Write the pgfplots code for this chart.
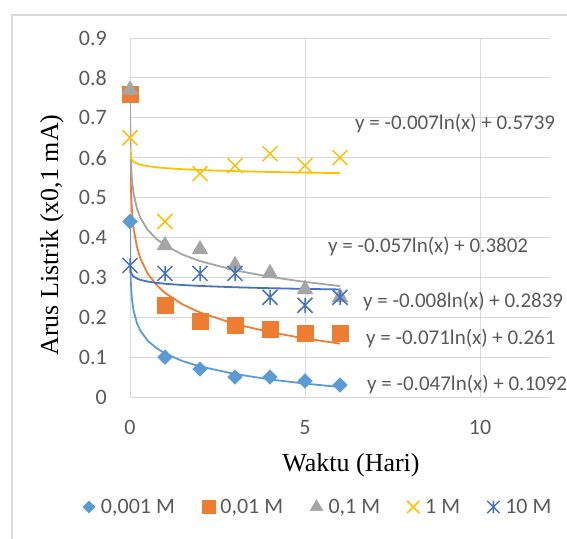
\documentclass[border=0pt]{standalone}
\usepackage{fontspec}
\setmainfont{Liberation Serif}
\newfontfamily\calibri{Carlito}
\usepackage{pgfplots}
\usepackage{pgfplotstable}
\pgfplotsset{compat=1.18}
\definecolor{cA}{HTML}{5B9BD5}
\definecolor{cB}{HTML}{ED7D31}
\definecolor{cC}{HTML}{A5A5A5}
\definecolor{cD}{HTML}{FFC000}
\definecolor{cE}{HTML}{4472C4}
\definecolor{gridc}{HTML}{D9D9D9}
\definecolor{tc}{HTML}{595959}

\pgfdeclareplotmark{rdiamond}{%
 \pgfpathmoveto{\pgfqpoint{0pt}{\pgfplotmarksize}}%
 \pgfpathlineto{\pgfqpoint{\pgfplotmarksize}{0pt}}%
 \pgfpathlineto{\pgfqpoint{0pt}{-\pgfplotmarksize}}%
 \pgfpathlineto{\pgfqpoint{-\pgfplotmarksize}{0pt}}%
 \pgfpathclose\pgfusepathqfillstroke}
\pgfdeclareplotmark{xmark}{%
 \pgfpathmoveto{\pgfqpoint{-\pgfplotmarksize}{-\pgfplotmarksize}}%
 \pgfpathlineto{\pgfqpoint{\pgfplotmarksize}{\pgfplotmarksize}}%
 \pgfpathmoveto{\pgfqpoint{-\pgfplotmarksize}{\pgfplotmarksize}}%
 \pgfpathlineto{\pgfqpoint{\pgfplotmarksize}{-\pgfplotmarksize}}%
 \pgfusepathqstroke}
\pgfdeclareplotmark{xstar}{%
 \pgfpathmoveto{\pgfqpoint{-\pgfplotmarksize}{-\pgfplotmarksize}}%
 \pgfpathlineto{\pgfqpoint{\pgfplotmarksize}{\pgfplotmarksize}}%
 \pgfpathmoveto{\pgfqpoint{-\pgfplotmarksize}{\pgfplotmarksize}}%
 \pgfpathlineto{\pgfqpoint{\pgfplotmarksize}{-\pgfplotmarksize}}%
 \pgfpathmoveto{\pgfqpoint{0pt}{-\pgfplotmarksize}}%
 \pgfpathlineto{\pgfqpoint{0pt}{\pgfplotmarksize}}%
 \pgfusepathqstroke}

\pgfplotstableread{
x a b c d e
0 0.44 0.76 0.77 0.65 0.33
1 0.10 0.23 0.38 0.44 0.31
2 0.07 0.19 0.37 0.56 0.31
3 0.05 0.18 0.33 0.58 0.31
4 0.05 0.17 0.31 0.61 0.25
5 0.04 0.16 0.27 0.58 0.23
6 0.03 0.16 0.25 0.60 0.25
}\data

% trendline points (from the equations shown in the chart)
\pgfplotstableread{
x a b c d e
0.001 0.4339 0.7515 0.7739 0.6223 0.3392
0.002 0.4013 0.7022 0.7344 0.6174 0.3336
0.005 0.3582 0.6372 0.6822 0.6110 0.3263
0.01 0.3256 0.5880 0.6427 0.6061 0.3207
0.02 0.2931 0.5388 0.6032 0.6013 0.3152
0.05 0.2500 0.4737 0.5510 0.5949 0.3079
0.1 0.2174 0.4245 0.5115 0.5900 0.3023
0.2 0.1848 0.3753 0.4719 0.5852 0.2968
0.3 0.1658 0.3465 0.4488 0.5823 0.2935
0.5 0.1418 0.3102 0.4197 0.5788 0.2895
0.75 0.1227 0.2814 0.3966 0.5759 0.2862
1 0.1092 0.2610 0.3802 0.5739 0.2839
1.5 0.0901 0.2322 0.3571 0.5711 0.2807
2 0.0766 0.2118 0.3407 0.5690 0.2784
3 0.0576 0.1830 0.3176 0.5662 0.2751
4 0.0440 0.1626 0.3012 0.5642 0.2728
5 0.0336 0.1467 0.2885 0.5626 0.2710
6 0.0250 0.1338 0.2781 0.5614 0.2696
}\trend

\newcommand{\tfont}{\calibri\fontsize{21}{25}\selectfont}
\newcommand{\kfont}{\calibri\fontsize{22}{26}\selectfont}

\begin{document}
\begin{tikzpicture}
\clip[use as bounding box] (0pt,0pt) rectangle (567pt,538pt);
\draw[gridc, line width=1.2pt] (12pt,-5pt) -- (12pt,523pt) -- (590pt,523pt);
\begin{axis}[
  at={(130pt,141pt)}, anchor=south west,
  scale only axis, width=420pt, height=359pt,
  xmin=0, xmax=12, ymin=0, ymax=0.9,
  xtick={0,5,10},
  ytick={0,0.1,0.2,0.3,0.4,0.5,0.6,0.7,0.8,0.9},
  grid=major,
  major grid style={draw=gridc, line width=1pt},
  axis line style={draw=none},
  tick style={draw=none},
  major tick length=0pt,
  /pgf/number format/.cd, fixed, precision=1, assume math mode=true,
  /pgfplots/.cd,
  ticklabel style={font=\kfont, text=tc},
  yticklabel style={inner sep=0pt, anchor=east, xshift=-23pt},
  xticklabel style={inner sep=0pt, anchor=north, yshift=-23pt},
  legend columns=5,
  legend style={draw=none, fill=none, font=\kfont, text=tc, inner sep=0pt, outer sep=0pt,
    at={(axis description cs:-0.112,-0.3064)}, anchor=west,
    /tikz/every even column/.append style={column sep=25pt}},
  legend image code/.code={\path[draw=none,fill=none] (0pt,0pt) -- (16pt,0pt);\draw[mark repeat=2,mark phase=2,#1,every mark/.append style={scale=0.82}] plot coordinates {(0pt,0pt) (6pt,0pt) (12pt,0pt)};},
]
\addplot[only marks, mark=rdiamond, mark size=7.3pt, draw=cA, fill=cA, line width=0.5pt] table[x=x,y=a]{\data};
\addlegendentry{0,001 M}
\addplot[only marks, mark=square*, mark size=8pt, draw=cB, fill=cB, line width=0.5pt] table[x=x,y=b]{\data};
\addlegendentry{0,01 M}
\addplot[only marks, mark=triangle*, mark size=9pt, draw=cC, fill=cC, line width=0.5pt] table[x=x,y=c]{\data};
\addlegendentry{0,1 M}
\addplot[only marks, mark=xmark, mark size=7.5pt, draw=cD, line width=1.5pt] table[x=x,y=d]{\data};
\addlegendentry{1 M}
\addplot[only marks, mark=xstar, mark size=7.5pt, draw=cE, line width=1.5pt] table[x=x,y=e]{\data};
\addlegendentry{10 M}

\addplot[forget plot, no marks, draw=cA, line width=1.8pt] table[x=x,y=a]{\trend};
\addplot[forget plot, no marks, draw=cB, line width=1.8pt] table[x=x,y=b]{\trend};
\addplot[forget plot, no marks, draw=cC, line width=1.8pt] table[x=x,y=c]{\trend};
\addplot[forget plot, no marks, draw=cD, line width=1.8pt] table[x=x,y=d]{\trend};
\addplot[forget plot, no marks, draw=cE, line width=1.8pt] table[x=x,y=e]{\trend};
\end{axis}
\node[anchor=west, font=\tfont, text=tc, inner sep=0pt] at (355pt,414pt) {y = -0.007ln(x) + 0.5739};
\node[anchor=west, font=\tfont, text=tc, inner sep=0pt] at (328pt,291pt) {y = -0.057ln(x) + 0.3802};
\node[anchor=west, font=\tfont, text=tc, inner sep=0pt] at (363pt,236pt) {y = -0.008ln(x) + 0.2839};
\node[anchor=west, font=\tfont, text=tc, inner sep=0pt] at (366pt,199pt) {y = -0.071ln(x) + 0.261};
\node[anchor=west, font=\tfont, text=tc, inner sep=0pt] at (367pt,153pt) {y = -0.047ln(x) + 0.1092};
\node[font=\fontsize{26}{31}\selectfont, text=black, anchor=base] at (351pt,67pt) {Waktu (Hari)};
\node[font=\fontsize{26}{31}\selectfont, text=black, rotate=90, anchor=base] at (58pt,303pt) {Arus Listrik (x0,1 mA)};
\end{tikzpicture}
\end{document}
